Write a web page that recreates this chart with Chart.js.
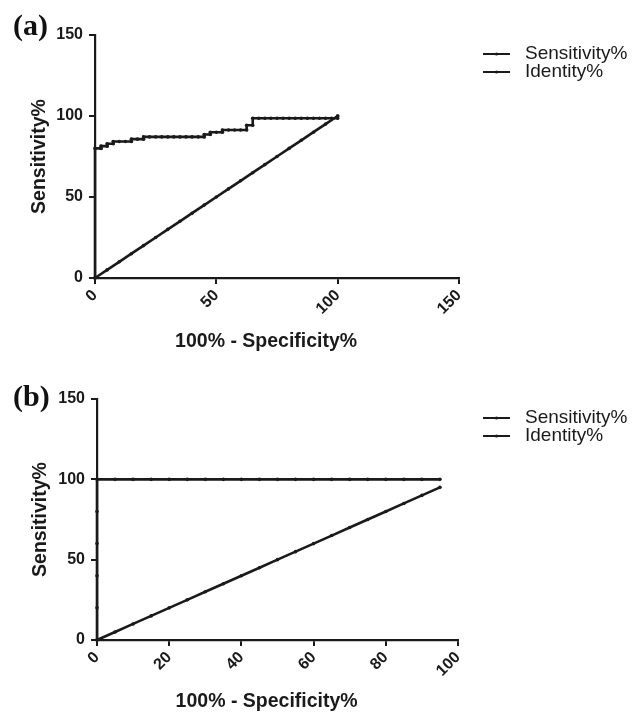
<!DOCTYPE html>
<html>
<head>
<meta charset="utf-8">
<script src="https://cdn.jsdelivr.net/npm/chart.js@4.4.1/dist/chart.umd.min.js"></script>
<style>
  html, body { margin: 0; padding: 0; background: #fff; }
  .painel { position: absolute; left: 0; width: 641px; }
</style>
</head>
<body>
<div class="painel" style="top:0;height:356px"><canvas id="rocA" width="641" height="356"></canvas></div>
<div class="painel" style="top:356px;height:357px"><canvas id="rocB" width="641" height="357"></canvas></div>
<script>
// ---- (a) curva ROC: 100% - Specificity% (x) e Sensitivity% (y)
const sensA_x = [0, 0, 2.5, 2.5, 5, 5, 7.5, 7.5, 10, 12.5, 15, 15, 17.5, 20, 20,
  22.5, 25, 27.5, 30, 32.5, 35, 37.5, 40, 42.5, 45, 45, 47.5, 47.5, 50, 52.5, 52.5,
  55, 57.5, 60, 62.5, 62.5, 65, 65, 67.5, 70, 72.5, 75, 77.5, 80, 82.5, 85, 87.5,
  90, 92.5, 95, 97.5, 100, 100];
const sensA_y = [0, 80, 80, 81.4, 81.4, 82.9, 82.9, 84.3, 84.3, 84.3, 84.3, 85.7, 85.7, 85.7, 87.1,
  87.1, 87.1, 87.1, 87.1, 87.1, 87.1, 87.1, 87.1, 87.1, 87.1, 88.6, 88.6, 90, 90, 90, 91.4,
  91.4, 91.4, 91.4, 91.4, 94.3, 94.3, 98.6, 98.6, 98.6, 98.6, 98.6, 98.6, 98.6, 98.6, 98.6, 98.6,
  98.6, 98.6, 98.6, 98.6, 98.6, 100];
const identA_x = [0, 5, 10, 15, 20, 25, 30, 35, 40, 45, 50, 55, 60, 65, 70, 75, 80, 85, 90, 95, 100];
const identA_y = [0, 5, 10, 15, 20, 25, 30, 35, 40, 45, 50, 55, 60, 65, 70, 75, 80, 85, 90, 95, 100];
const ticksA_x = [0, 50, 100, 150];

// ---- (b)
const sensB_x = [0, 0, 0, 0, 0, 0, 5, 10, 15, 20, 25, 30, 35, 40, 45, 50, 55, 60, 65, 70, 75, 80, 85, 90, 95];
const sensB_y = [0, 20, 40, 60, 80, 100, 100, 100, 100, 100, 100, 100, 100, 100, 100, 100, 100, 100, 100, 100, 100, 100, 100, 100, 100];
const identB_x = [0, 5, 10, 15, 20, 25, 30, 35, 40, 45, 50, 55, 60, 65, 70, 75, 80, 85, 90, 95];
const identB_y = [0, 5, 10, 15, 20, 25, 30, 35, 40, 45, 50, 55, 60, 65, 70, 75, 80, 85, 90, 95];
const ticksB_x = [0, 20, 40, 60, 80, 100];

const ticksY = [0, 50, 100, 150];
const nomesSeries = ['Sensitivity%', 'Identity%'];
const tituloX = '100% - Specificity%    '; // espaços no fim puxam o título um pouco para a esquerda
const tituloY = 'Sensitivity%';

const COR = '#1a1a1a';
const FONTE = '"Liberation Sans", Arial, Helvetica, sans-serif';

// legenda desenhada à mão (linha curta + texto)
const legendaManual = {
  id: 'legendaManual',
  afterDraw(chart, args, opts) {
    const ctx = chart.ctx;
    ctx.save();
    ctx.fillStyle = COR;
    ctx.strokeStyle = COR;
    chart.data.datasets.forEach((ds, i) => {
      const y = opts.y + i * opts.gap;
      ctx.lineWidth = 2;
      ctx.beginPath();
      ctx.moveTo(opts.x, y);
      ctx.lineTo(opts.x + 27, y);
      ctx.stroke();
      ctx.beginPath();
      ctx.arc(opts.x + 13.5, y, 1.6, 0, Math.PI * 2);
      ctx.fill();
      ctx.font = '19px ' + FONTE;
      ctx.textBaseline = 'middle';
      ctx.textAlign = 'left';
      ctx.fillText(ds.label, opts.x + 42, y);
    });
    ctx.restore();
  }
};

// letra do painel: (a), (b)
const letraPainel = {
  id: 'letraPainel',
  afterDraw(chart, args, opts) {
    const ctx = chart.ctx;
    ctx.save();
    ctx.fillStyle = '#111';
    ctx.font = 'bold 30px "Liberation Serif", "Times New Roman", serif';
    ctx.textBaseline = 'middle';
    ctx.textAlign = 'left';
    ctx.fillText(opts.texto, opts.x, opts.y);
    ctx.restore();
  }
};

function serie(xs, ys) {
  return xs.map((x, i) => ({ x: x, y: ys[i] }));
}

function montarGrafico(id, cfg) {
  const ctx = document.getElementById(id).getContext('2d');
  return new Chart(ctx, {
    type: 'line',
    data: {
      datasets: [
        { label: nomesSeries[0], data: serie(cfg.sensX, cfg.sensY) },
        { label: nomesSeries[1], data: serie(cfg.identX, cfg.identY) }
      ]
    },
    options: {
      responsive: false,
      animation: false,
      devicePixelRatio: 1,
      layout: { padding: { top: cfg.topo, right: 641 - cfg.direita, left: 0, bottom: 0 } },
      elements: {
        line: { borderColor: COR, borderWidth: 2.6, tension: 0, fill: false },
        point: { radius: 1.8, backgroundColor: COR, borderWidth: 0, hoverRadius: 1.8 }
      },
      datasets: { line: { clip: false } },
      plugins: {
        legend: { display: false },
        tooltip: { enabled: false },
        legendaManual: { x: 483, y: cfg.legendaY, gap: 18 },
        letraPainel: { texto: cfg.letra, x: 13, y: cfg.letraY }
      },
      scales: {
        x: {
          type: 'linear',
          min: cfg.ticksX[0],
          max: cfg.ticksX[cfg.ticksX.length - 1],
          afterBuildTicks: s => { s.ticks = cfg.ticksX.map(v => ({ value: v })); },
          afterFit: s => { s.height = cfg.alturaX; },
          border: { display: true, color: COR, width: 2.2 },
          grid: { display: true, drawOnChartArea: false, drawTicks: true, tickLength: 6, color: COR, lineWidth: 2 },
          ticks: {
            color: COR, minRotation: 45, maxRotation: 45, padding: 2,
            font: { family: FONTE, size: 16, weight: 'bold' }
          },
          title: {
            display: true, text: tituloX, color: COR,
            font: { family: FONTE, size: 19.5, weight: 'bold' },
            padding: { top: 0, bottom: cfg.padTituloX }
          }
        },
        y: {
          type: 'linear',
          min: 0,
          max: 150,
          afterBuildTicks: s => { s.ticks = ticksY.map(v => ({ value: v })); },
          afterFit: s => { s.width = cfg.esquerda; },
          border: { display: true, color: COR, width: 2.2 },
          grid: { display: true, drawOnChartArea: false, drawTicks: true, tickLength: 6, color: COR, lineWidth: 2 },
          ticks: {
            color: COR, padding: 6,
            font: { family: FONTE, size: 16, weight: 'bold' }
          },
          title: {
            display: true, text: tituloY, color: COR,
            font: { family: FONTE, size: 19.5, weight: 'bold' },
            padding: { top: cfg.padTituloY, bottom: 0 }
          }
        }
      }
    },
    plugins: [legendaManual, letraPainel]
  });
}

montarGrafico('rocA', {
  sensX: sensA_x, sensY: sensA_y, identX: identA_x, identY: identA_y, ticksX: ticksA_x,
  topo: 35, direita: 459, esquerda: 95, alturaX: 78, padTituloX: 3, padTituloY: 28,
  legendaY: 54, letra: '(a)', letraY: 27
});

montarGrafico('rocB', {
  sensX: sensB_x, sensY: sensB_y, identX: identB_x, identY: identB_y, ticksX: ticksB_x,
  topo: 43, direita: 458, esquerda: 97, alturaX: 73, padTituloX: 0, padTituloY: 29,
  legendaY: 62, letra: '(b)', letraY: 42
});
</script>
</body>
</html>
